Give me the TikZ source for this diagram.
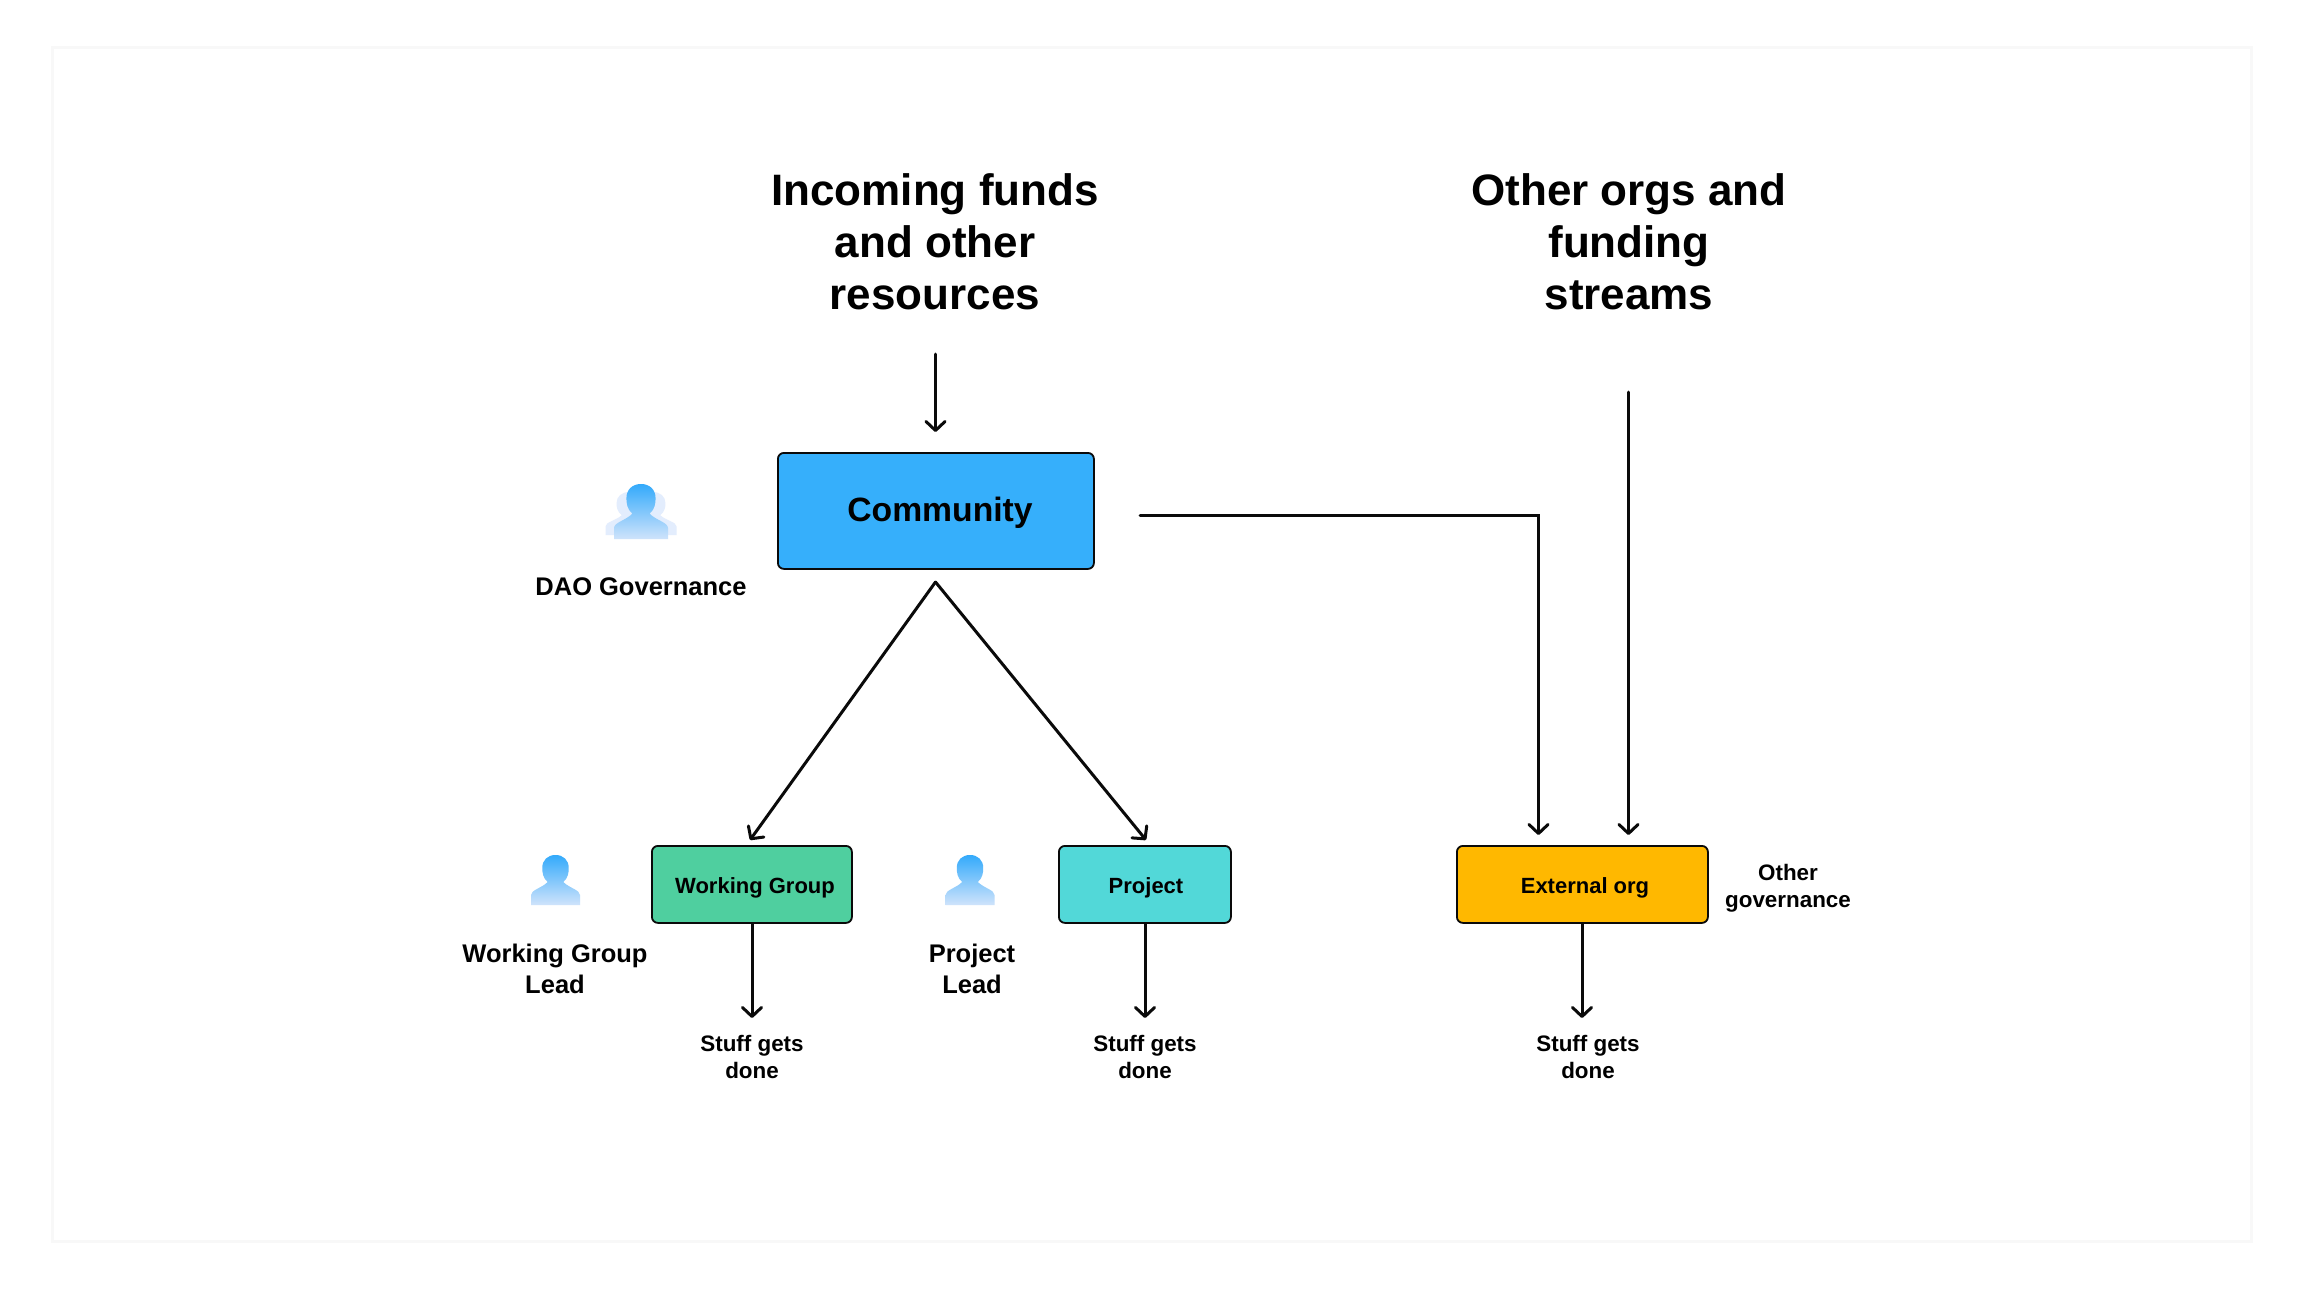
\documentclass[tikz,border=0pt]{standalone}
\usepackage{fontspec}
\setmainfont{Liberation Sans}[BoldFont={Liberation Sans Bold}]
\usetikzlibrary{arrows.meta}
\definecolor{cardline}{HTML}{F8F8F8}
\definecolor{commblue}{HTML}{36AFFB}
\definecolor{wggreen}{HTML}{4FCF9F}
\definecolor{projteal}{HTML}{52D8D8}
\definecolor{extamber}{HTML}{FFB800}
\definecolor{ink}{HTML}{0A0A0A}
\definecolor{ghostblue}{HTML}{E3EDFD}
\definecolor{headblue}{HTML}{33AAFB}
\definecolor{footblue}{HTML}{CFE3FB}
\tikzset{
  x=1pt,y=-1pt,
  boxnode/.style={draw=ink,line width=1.8pt,rounded corners=6pt,inner sep=0pt,anchor=north west},
  boxtext/.style={inner sep=0pt,text=black,font=\bfseries\fontsize{22}{26}\selectfont},
  bigtitle/.style={align=center,inner sep=0pt,font=\bfseries\fontsize{44}{52}\selectfont},
  midlabel/.style={align=center,inner sep=0pt,font=\bfseries\fontsize{25.5}{30.5}\selectfont},
  smalllabel/.style={align=center,inner sep=0pt,font=\bfseries\fontsize{22.4}{26.5}\selectfont},
  flow/.style={draw=ink,line width=3pt,line cap=round,-{Straight Barb[length=9pt,width=19pt,line width=3pt,round]}},
  personshape/.pic={
    \path[pic actions] (-25,50) -- (-25,40) .. controls (-25,35) and (-14,33) .. (-8,27)
      .. controls (-13,23) and (-13.5,17) .. (-13.5,13)
      .. controls (-13.5,5) and (-8,0) .. (0,0)
      .. controls (8,0) and (13.5,5) .. (13.5,13)
      .. controls (13.5,17) and (13,23) .. (8,27)
      .. controls (14,33) and (25,35) .. (25,40) -- (25,50) -- cycle;
  },
  gradperson/.style={top color=headblue,bottom color=footblue,draw=none},
}
\begin{document}
\begin{tikzpicture}
\useasboundingbox (0,0) rectangle (2304,1295);
\fill[white] (0,0) rectangle (2304,1295);
\draw[cardline,line width=3pt,fill=white] (52,48) rectangle (2251,1241);

% titles
\node[bigtitle] (fundstitle) at (935,242) {Incoming funds\\and other\\resources};
\node[bigtitle] (orgstitle) at (1629,242) {Other orgs and\\funding\\streams};

% boxes
\node[boxnode,fill=commblue,minimum width=316pt,minimum height=116pt] (community) at (777,452) {};
\node[boxtext,font=\bfseries\fontsize{33.7}{40}\selectfont] (communitytext) at (940,513) {Community};
\node[boxnode,fill=wggreen,minimum width=200pt,minimum height=77pt] (wg) at (651,845) {};
\node[boxtext] (wgtext) at (755,888) {Working Group};
\node[boxnode,fill=projteal,minimum width=172pt,minimum height=77pt] (project) at (1058,845) {};
\node[boxtext] (projecttext) at (1146,888) {Project};
\node[boxnode,fill=extamber,minimum width=251pt,minimum height=77pt] (external) at (1456,845) {};
\node[boxtext] (externaltext) at (1585,888) {External org};

% labels
\node[midlabel] (daolabel) at (641,587) {DAO Governance};
\node[midlabel] (wglead) at (555,969) {Working Group\\Lead};
\node[midlabel] (projlead) at (972,969) {Project\\Lead};
\node[smalllabel] (othergov) at (1788,888) {Other\\governance};
\node[smalllabel] (done1) at (752,1057) {Stuff gets\\done};
\node[smalllabel] (done2) at (1145,1057) {Stuff gets\\done};
\node[smalllabel] (done3) at (1588,1057) {Stuff gets\\done};

% icons
\pic[fill=ghostblue,draw=none,xscale=.96,yscale=.86] at (629.5,492) {personshape};
\pic[fill=ghostblue,draw=none,xscale=.96,yscale=.86] at (652.5,492) {personshape};
\pic[gradperson,xscale=1.08,yscale=1.1] at (641,484) {personshape};
\pic[gradperson,xscale=.98] at (555.5,855) {personshape};
\pic[gradperson,xscale=.98] at (970,855) {personshape};

% free ends
\coordinate (fundsout) at (935.5,354);
\coordinate (fundsin) at (935.5,432);
\coordinate (commout) at (1140,515);
\coordinate (extinleft) at (1538.5,835);
\coordinate (orgsout) at (1628.5,392);
\coordinate (extinright) at (1628.5,835);
\coordinate (apex) at (935.5,582);
\coordinate (wgin) at (750,840);
\coordinate (projin) at (1146,840);
\coordinate (wgdone) at (752,1018);
\coordinate (projdone) at (1145,1018);
\coordinate (extdone) at (1582,1018);

% connectors
\draw[flow] (fundsout) -- (fundsin);
\draw[flow] (commout) -| (extinleft);
\draw[flow] (orgsout) -- (extinright);
\draw[flow] (apex) -- (wgin);
\draw[flow] (apex) -- (projin);
\draw[flow] (wgdone |- wg.south) -- (wgdone);
\draw[flow] (projdone |- project.south) -- (projdone);
\draw[flow] (extdone |- external.south) -- (extdone);
\end{tikzpicture}
\end{document}
